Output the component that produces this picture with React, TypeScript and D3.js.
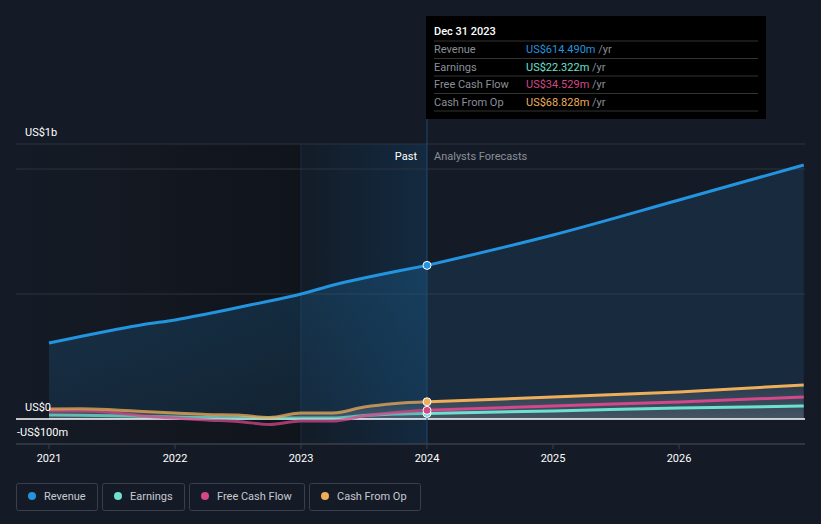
import React from 'react';
import * as d3 from 'd3';

// decimal years
const pastYears = [2021, 2021.25, 2021.5, 2021.75, 2022, 2022.25, 2022.5, 2022.75, 2023, 2023.25, 2023.5, 2023.75, 2024];
const futureYears = [2024, 2025, 2026, 2026.99];

// US$ millions
const revenuePast = [304, 330, 355, 378, 396, 420, 446, 472, 500, 535, 564, 590, 614.49];
const revenueFuture = [614.49, 736, 876, 1016];
const earningsPast = [16, 15, 13, 10, 8, 6, 5, 4, 4, 4, 14, 20, 22.32];
const earningsFuture = [22.32, 32, 44, 52];
const fcfPast = [32, 32, 26, 12, 4, -4, -10, -22, -8, -8, 12, 26, 34.53];
const fcfFuture = [34.53, 52, 68, 88];
const cfoPast = [40, 41, 37, 30, 24, 18, 16, 6, 24, 24, 48, 62, 68.83];
const cfoFuture = [68.83, 88, 108, 136];

const xTicks = [2021, 2022, 2023, 2024, 2025, 2026];

const series = [
  { name: 'Revenue', color: '#2394df', past: revenuePast, future: revenueFuture, value: 'US$614.490m' },
  { name: 'Earnings', color: '#6ee0cf', past: earningsPast, future: earningsFuture, value: 'US$22.322m' },
  { name: 'Free Cash Flow', color: '#d2488a', past: fcfPast, future: fcfFuture, value: 'US$34.529m' },
  { name: 'Cash From Op', color: '#eeae5a', past: cfoPast, future: cfoFuture, value: 'US$68.828m' },
];

const W = 821;
const H = 524;

const App = () => {
  const x = d3.scaleLinear().domain([2021, 2024]).range([49, 427]);
  const y = d3.scaleLinear().domain([0, 1000]).range([419, 169]);
  const left = 16;
  const right = 805;
  const nowX = x(2024);

  const line = (xs: number[], vs: number[]) =>
    d3.line<number>().x((_, i) => x(xs[i])).y((d) => y(d)).curve(d3.curveMonotoneX)(vs) || '';
  const area = (xs: number[], vs: number[]) =>
    d3.area<number>().x((_, i) => x(xs[i])).y0(y(0)).y1((d) => y(d)).curve(d3.curveMonotoneX)(vs) || '';

  const font = 'Roboto, "Open Sans", sans-serif';
  const legendX = [16, 102, 189, 309];
  const legendW = [81, 82, 115, 111];
  // draw order for dots: earnings under fcf
  const dotOrder = [1, 2, 3, 0];

  return (
    <svg width={W} height={H} style={{ position: 'absolute', left: 0, top: 0, background: '#151b26' }} fontFamily={font}>
      <defs>
        <linearGradient id="pastBg" x1="0" x2="1" y1="0" y2="0">
          <stop offset="0" stopColor="#151b26" />
          <stop offset="1" stopColor="#10141b" />
        </linearGradient>
        <linearGradient id="hl" x1="0" x2="1" y1="0" y2="0">
          <stop offset="0" stopColor="#131c28" />
          <stop offset="1" stopColor="#132a40" />
        </linearGradient>
        <linearGradient id="revFill" x1="0" x2="0" y1="0" y2="1">
          <stop offset="0" stopColor="#2394df" stopOpacity="0.2" />
          <stop offset="1" stopColor="#2394df" stopOpacity="0.12" />
        </linearGradient>
        <linearGradient id="smallFill" x1="0" x2="0" y1="0" y2="1">
          <stop offset="0" stopColor="#ffffff" stopOpacity="0.08" />
          <stop offset="1" stopColor="#ffffff" stopOpacity="0.2" />
        </linearGradient>
      </defs>

      {/* past background */}
      <rect x={left} y={144} width={x(2023) - left} height={444 - 144} fill="url(#pastBg)" />
      <rect x={x(2023)} y={144} width={nowX - x(2023)} height={444 - 144} fill="url(#hl)" />
      <line x1={x(2023)} x2={x(2023)} y1={144} y2={444} stroke="#1a2d40" />

      {/* gridlines */}
      {[144, y(1000), y(500)].map((v) => (
        <line key={v} x1={left} x2={right} y1={v} y2={v} stroke="#2c333f" strokeWidth={1} />
      ))}

      {/* revenue area */}
      <path d={area(pastYears, revenuePast)} fill="url(#revFill)" />
      <path d={area(futureYears, revenueFuture)} fill="#2394df" fillOpacity={0.13} />
      {/* small series area */}
      <path d={area(pastYears, cfoPast)} fill="url(#smallFill)" />
      <path d={area(futureYears, cfoFuture)} fill="url(#smallFill)" />

      <line x1={left} x2={right} y1={y(0)} y2={y(0)} stroke="#ffffff" strokeWidth={1.3} />
      <line x1={left} x2={right} y1={444} y2={444} stroke="#3a404b" strokeWidth={1.3} />

      {/* lines */}
      {dotOrder.map((k) => series[k]).map((s) => (
        <g key={s.name}>
          <path d={line(pastYears, s.past)} fill="none" stroke={s.color} strokeWidth={3} strokeOpacity={s.name === 'Revenue' ? 1 : 0.75} />
          <path d={line(futureYears, s.future)} fill="none" stroke={s.color} strokeWidth={3} />
        </g>
      ))}

      {/* now line */}
      <line x1={nowX} x2={nowX} y1={16} y2={444} stroke="#1e4a6e" strokeWidth={1} />
      {dotOrder.map((k) => series[k]).map((s) => (
        <circle key={s.name} cx={nowX} cy={y(s.past[s.past.length - 1])} r={4} fill={s.color} stroke="#ffffff" strokeWidth={1} />
      ))}

      {/* y labels */}
      <text x={25} y={136} fill="#ffffff" fontSize={11}>US$1b</text>
      <text x={25} y={411} fill="#ffffff" fontSize={11}>US$0</text>
      <text x={17} y={436} fill="#ffffff" fontSize={11}>-US$100m</text>

      <text x={417} y={160} fill="#ffffff" fontSize={11} textAnchor="end">Past</text>
      <text x={434} y={160} fill="#8a8f98" fontSize={11}>Analysts Forecasts</text>

      {/* x axis */}
      {xTicks.map((t) => (
        <g key={t}>
          <line x1={x(t)} x2={x(t)} y1={444} y2={449} stroke="#3a404b" />
          <text x={x(t)} y={462} fill="#ffffff" fontSize={11} textAnchor="middle">{t}</text>
        </g>
      ))}

      {/* tooltip */}
      <rect x={426} y={16} width={340} height={103} fill="#000000" />
      <text x={434} y={35} fill="#ffffff" fontSize={11} fontWeight={500}>Dec 31 2023</text>
      {series.map((s, i) => (
        <g key={s.name}>
          <line x1={434} x2={758} y1={41 + i * 17.5} y2={41 + i * 17.5} stroke="#333" />
          <text x={434} y={53 + i * 17.5} fill="#8a8f98" fontSize={11}>{s.name}</text>
          <text x={526} y={53 + i * 17.5} fill={s.color} fontSize={11}>
            {s.value} <tspan fill="#8a8f98">/yr</tspan>
          </text>
        </g>
      ))}
      <line x1={434} x2={758} y1={111} y2={111} stroke="#333" />

      {/* legend */}
      {series.map((s, i) => (
        <g key={s.name}>
          <rect x={legendX[i] + 0.5} y={483.5} width={legendW[i]} height={27} rx={2} fill="none" stroke="#3a404b" />
          <circle cx={legendX[i] + 16} cy={496} r={4} fill={s.color} />
          <text x={legendX[i] + 28} y={500} fill="#c8cad0" fontSize={11}>{s.name}</text>
        </g>
      ))}
    </svg>
  );
};

export default App;
